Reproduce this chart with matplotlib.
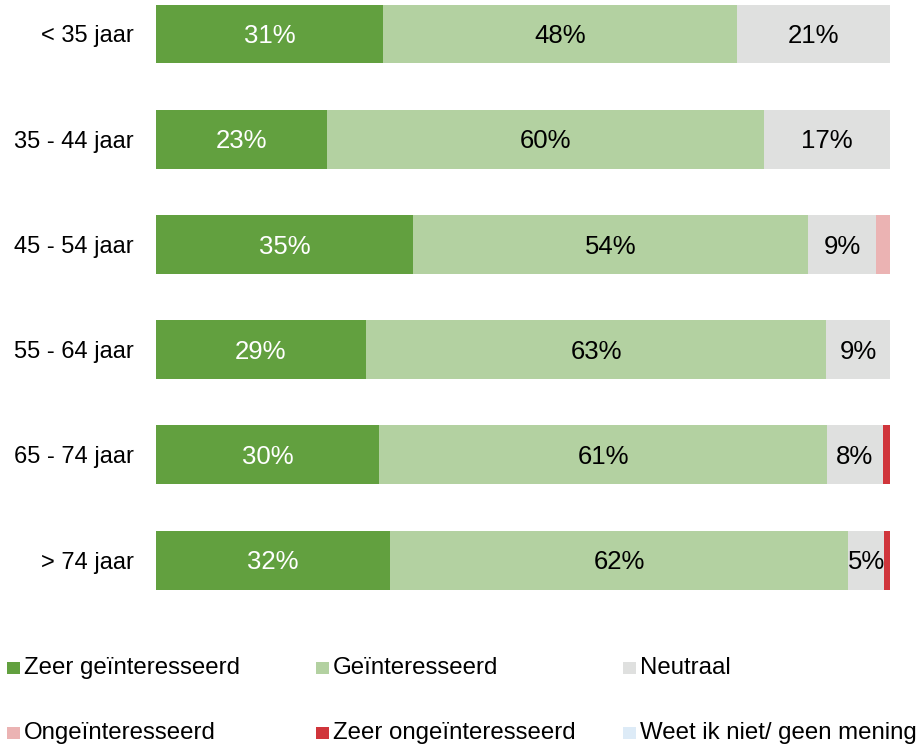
import matplotlib
matplotlib.use("Agg")
import matplotlib.pyplot as plt
from matplotlib.patches import Rectangle
from matplotlib.transforms import offset_copy
import numpy as np

plt.rcParams['font.family'] = ['Liberation Sans', 'DejaVu Sans']

categories = ["< 35 jaar", "35 - 44 jaar", "45 - 54 jaar", "55 - 64 jaar", "65 - 74 jaar", "> 74 jaar"]
series_names = ["Zeer geïnteresseerd", "Geïnteresseerd", "Neutraal", "Ongeïnteresseerd",
                "Zeer ongeïnteresseerd", "Weet ik niet/ geen mening"]
zeer_geinteresseerd = [30.9, 23.3, 35.0, 28.6, 30.4, 31.9]
geinteresseerd = [48.2, 59.5, 53.8, 62.7, 61.0, 62.4]
neutraal = [20.9, 17.2, 9.3, 8.7, 7.6, 4.9]
ongeinteresseerd = [0.0, 0.0, 1.9, 0.0, 0.0, 0.0]
zeer_ongeinteresseerd = [0.0, 0.0, 0.0, 0.0, 1.0, 0.8]
weet_niet = [0.0, 0.0, 0.0, 0.0, 0.0, 0.0]
labels_shown = [
    ["31%", "48%", "21%", "", "", ""],
    ["23%", "60%", "17%", "", "", ""],
    ["35%", "54%", "9%", "", "", ""],
    ["29%", "63%", "9%", "", "", ""],
    ["30%", "61%", "8%", "", "", ""],
    ["32%", "62%", "5%", "", "", ""],
]
colors = ["#62A03F", "#B3D1A1", "#DFE0DF", "#EBB3B3", "#D0353B", "#DDEBF7"]
text_colors = ["white", "black", "black", "black", "black", "black"]

series = [zeer_geinteresseerd, geinteresseerd, neutraal, ongeinteresseerd, zeer_ongeinteresseerd, weet_niet]

W, H = 920, 746
fig = plt.figure(figsize=(W / 100, H / 100), dpi=100)
ax_left, ax_right = 156 / W, 890 / W
ax_top_px, ax_bot_px = 2.4, 597.0
ax = fig.add_axes([ax_left, 1 - ax_bot_px / H, ax_right - ax_left, (ax_bot_px - ax_top_px) / H])

label_tr = offset_copy(ax.transData, fig=fig, x=0, y=-2.2, units='dots')

y = np.arange(len(categories))
left = np.zeros(len(categories))
for i, (vals, col) in enumerate(zip(series, colors)):
    vals = np.array(vals)
    ax.barh(y, vals, left=left, height=0.56, color=col, edgecolor='none', label=series_names[i])
    for j in range(len(categories)):
        lab = labels_shown[j][i]
        if lab:
            ax.text(left[j] + vals[j] / 2, y[j], lab, ha='center', va='center',
                    fontsize=18.5, color=text_colors[i], transform=label_tr)
    left = left + vals

ax.set_xlim(0, 100)
ax.set_ylim(5.35, -0.3)
ax.set_yticks(y)
ax.set_yticklabels(categories, fontsize=17)
ax.tick_params(axis='y', length=0, pad=16)
ax.set_xticks([])
for s in ax.spines.values():
    s.set_visible(False)

# legend (manual layout)
leg_x = [7, 316, 623]
leg_y = [668, 733]
sq_w, sq_h = 13, 12
for k, name in enumerate(series_names):
    r, c = divmod(k, 3)
    x0, yc = leg_x[c], leg_y[r]
    fig.patches.append(Rectangle((x0 / W, 1 - (yc + sq_h / 2) / H), sq_w / W, sq_h / H,
                                 transform=fig.transFigure, facecolor=colors[k], edgecolor='none'))
    fig.text((x0 + sq_w + 4) / W, 1 - yc / H, name, ha='left', va='center', fontsize=17.3)

fig.savefig("out.png", dpi=100)
